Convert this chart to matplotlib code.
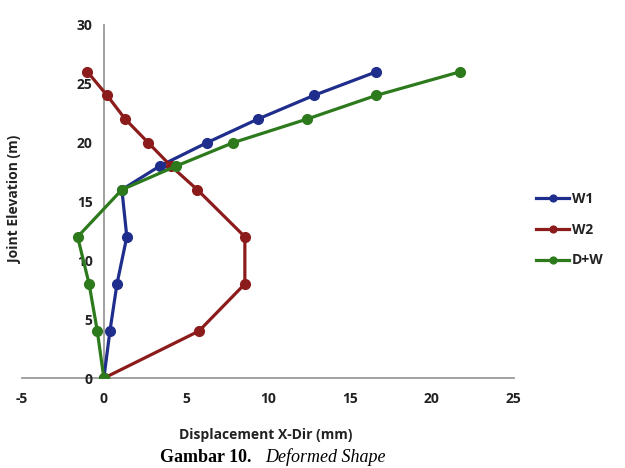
import numpy as np
import matplotlib.pyplot as plt

# joint elevations (m) and displacement per load case (mm)
elev = [0, 4, 8, 12, 16, 18, 20, 22, 24, 26]
w1 = [0, 0.37, 0.8, 1.4, 1.1, 3.4, 6.3, 9.4, 12.8, 16.6]
w2 = [0, 5.8, 8.6, 8.6, 5.7, 4.1, 2.7, 1.3, 0.2, -1.0]
dw = [0, -0.4, -0.9, -1.6, 1.1, 4.4, 7.9, 12.4, 16.6, 21.7]

series = [('W1', w1, '#1f2e8c'), ('W2', w2, '#8c1c1c'), ('D+W', dw, '#2d7a1c')]

plt.rcParams['font.family'] = ['Open Sans', 'DejaVu Sans']
plt.rcParams['axes.unicode_minus'] = False

fig = plt.figure(figsize=(6.25, 4.68), dpi=100)
ax = fig.add_axes([0.035, 0.192, 0.787, 0.755])

for name, x, c in series:
    ax.plot(x, elev, '-o', color=c, lw=2.3, markersize=7, label=name)

ax.set_xlim(-5, 25)
ax.set_ylim(0, 30)
ax.set_xticks(np.arange(-5, 26, 5))
ax.set_yticks(np.arange(0, 31, 5))

ax.spines['left'].set_position(('data', 0))
ax.spines['bottom'].set_position(('data', 0))
ax.spines['right'].set_visible(False)
ax.spines['top'].set_visible(False)
for s in ['left', 'bottom']:
    ax.spines[s].set_color('#9a9a9a')
    ax.spines[s].set_linewidth(1.3)
    ax.spines[s].set_zorder(0)
ax.tick_params(length=0, labelsize=10, labelcolor='#222222')
ax.tick_params(axis='x', pad=10)
ax.tick_params(axis='y', pad=8)
for lab in ax.get_xticklabels() + ax.get_yticklabels():
    lab.set_fontweight('bold')

fig.text(0.024, 0.575, 'Joint Elevation (m)', rotation=90, ha='center', va='center',
         fontsize=10, fontweight='bold', color='#222222')
fig.text(0.425, 0.07, 'Displacement X-Dir (mm)', ha='center', va='center',
         fontsize=10, fontweight='bold', color='#222222')

leg = ax.legend(loc='center left', bbox_to_anchor=(1.02, 0.42), frameon=False,
                handlelength=2.4, labelspacing=1.2, handletextpad=0.2, markerscale=0.7,
                prop={'size': 10, 'weight': 'bold'})
for t in leg.get_texts():
    t.set_color('#222222')

fig.text(0.256, 0.004, 'Gambar 10.', family='Liberation Serif', fontweight='bold',
         fontsize=13, va='bottom')
fig.text(0.425, 0.004, 'Deformed Shape', family='Liberation Serif', style='italic',
         fontsize=13, va='bottom')

fig.savefig('out.png', dpi=100)
